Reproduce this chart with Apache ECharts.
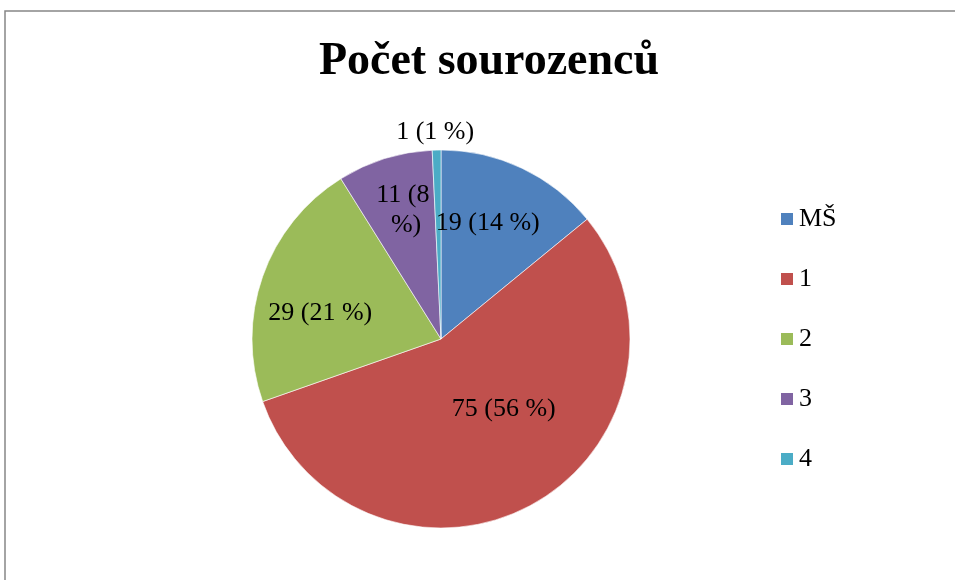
<!DOCTYPE html>
<html>
<head>
<meta charset="utf-8">
<script src="https://cdn.jsdelivr.net/npm/echarts@6/dist/echarts.min.js"></script>
<style>html,body{margin:0;padding:0;background:#fff}#c{width:955px;height:580px}</style>
</head>
<body>
<div id="c"></div>
<script>
const titleText = 'Počet sourozenců';
const categories = ['MŠ', '1', '2', '3', '4'];
const values = [19, 75, 29, 11, 1];
const colors = ['#4F81BD', '#C0504D', '#9BBB59', '#8064A2', '#4BACC6'];

const total = values.reduce((a, b) => a + b, 0);
const fmt = p => p.value + ' (' + Math.round(p.value / total * 100) + ' %)';
const FONT = '"Liberation Serif", "Times New Roman", serif';

const mainData = categories.map((c, i) => ({
  name: c, value: values[i], itemStyle: { color: colors[i] },
  label: i === 4 ? { show: true } : { show: false }
}));
const labelOffsets = [[-8, 0], [0, -41], [0, 17], [0, -7], [0, 0]];
const labelData = categories.map((c, i) => {
  const d = { name: c, value: values[i], label: { offset: labelOffsets[i] } };
  if (i === 4) d.label = { show: false };
  if (i === 3) d.label.width = 55, d.label.overflow = 'break';
  return d;
});

const chart = echarts.init(document.getElementById('c'), null, { renderer: 'canvas' });
chart.setOption({
  backgroundColor: '#fff',
  animation: false,
  color: colors,
  graphic: [{
    type: 'rect', silent: true, z: -1,
    shape: { x: 5, y: 11, width: 1000, height: 1000 },
    style: { fill: null, stroke: '#868686', lineWidth: 1.5 }
  }],
  title: {
    text: titleText, left: 484, top: 34, textAlign: 'center',
    textStyle: { fontFamily: FONT, fontSize: 46, fontWeight: 'bold', color: '#000' }
  },
  legend: {
    orient: 'vertical', left: 774, top: 201,
    icon: 'rect', itemWidth: 14, itemHeight: 14, itemGap: 34, itemTextGap: 6,
    data: categories,
    textStyle: { fontFamily: FONT, fontSize: 26, color: '#000', lineHeight: 26 }
  },
  series: [{
    type: 'pie', center: [441, 339], radius: [0, 189],
    startAngle: 90, clockwise: true, avoidLabelOverlap: false,
    itemStyle: { borderColor: '#fff', borderWidth: 0.6 },
    label: {
      position: 'outside', formatter: fmt, alignTo: 'none',
      fontFamily: FONT, fontSize: 26, color: '#000', offset: [43, 0]
    },
    labelLine: { show: false, length: 18, length2: 0 },
    data: mainData
  }, {
    type: 'pie', center: [441, 339], radius: [0, 250],
    startAngle: 90, clockwise: true, silent: true, avoidLabelOverlap: false,
    legendHoverLink: false,
    itemStyle: { color: 'rgba(0,0,0,0)', borderWidth: 0 },
    label: {
      show: true, position: 'inside', formatter: fmt,
      fontFamily: FONT, fontSize: 26, color: '#000', lineHeight: 30
    },
    labelLine: { show: false },
    data: labelData
  }]
});
</script>
</body>
</html>
